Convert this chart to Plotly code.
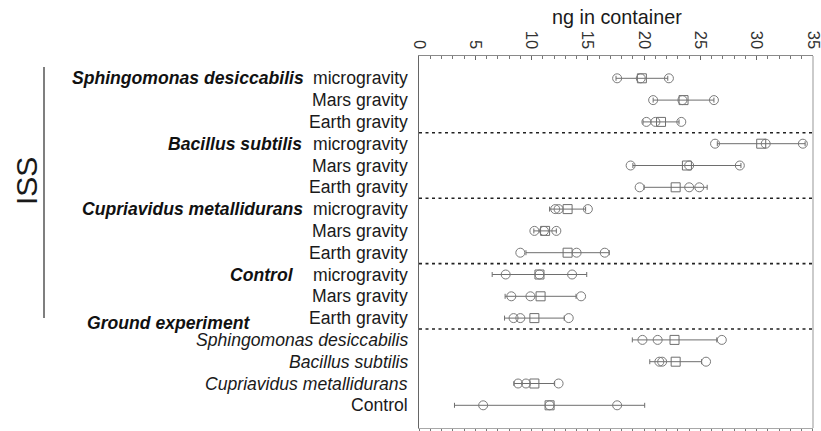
import plotly.graph_objects as go

# ---------------- data ----------------
row_labels = ["microgravity", "Mars gravity", "Earth gravity",
              "microgravity", "Mars gravity", "Earth gravity",
              "microgravity", "Mars gravity", "Earth gravity",
              "microgravity", "Mars gravity", "Earth gravity",
              "Sphingomonas desiccabilis", "Bacillus subtilis",
              "Cupriavidus metallidurans", "Control"]
row_italic = [False] * 12 + [True, True, True, False]

group_labels = ["Sphingomonas desiccabilis", "Bacillus subtilis",
                "Cupriavidus metallidurans", "Control"]
group_rows = [0, 3, 6, 9]

means = [19.8, 23.5, 21.5, 30.4, 23.8, 22.8, 13.2, 11.2, 13.2,
         10.7, 10.8, 10.25, 22.7, 22.8, 10.25, 11.6]
sd = [2.3, 2.7, 1.6, 3.9, 4.8, 2.8, 1.6, 1.0, 3.7,
      4.2, 3.15, 2.65, 3.75, 2.3, 1.8, 8.45]
replicates = [
    [17.6, 19.7, 22.2],
    [20.8, 23.4, 26.2],
    [20.2, 21.0, 23.3],
    [26.3, 30.8, 34.1],
    [18.8, 24.0, 28.5],
    [19.6, 24.0, 24.9],
    [12.1, 12.4, 15.0],
    [10.25, 11.1, 12.2],
    [9.0, 14.0, 16.5],
    [7.7, 10.7, 13.6],
    [8.2, 9.9, 14.4],
    [8.4, 9.0, 13.3],
    [19.85, 21.2, 26.9],
    [21.35, 21.6, 25.5],
    [8.8, 9.5, 12.4],
    [5.7, 11.6, 17.6],
]
x_ticks = [0, 5, 10, 15, 20, 25, 30, 35]
separators = [2.5, 5.5, 8.5, 11.5]

# ---------------- layout helpers ----------------
W, H = 821, 431
L, R, T, B = 419, 813, 56, 428


def px_x(px):
    return (px - L) / (R - L)


def px_y(py):
    return (B - py) / (B - T)


rows = list(range(len(means)))
FONT = "Arial, Liberation Sans, sans-serif"
TXT = "#1a1a1a"

fig = go.Figure()

# means with SD error bars
fig.add_trace(go.Scatter(
    x=means, y=rows, mode="markers",
    marker=dict(symbol="square-open", size=9, color="#6e6e6e",
                line=dict(width=1, color="#6e6e6e")),
    error_x=dict(type="data", array=sd, visible=True, color="#6e6e6e",
                 thickness=1, width=2.5),
    showlegend=False, hoverinfo="x+y"))

# individual replicates
rx, ry = [], []
for r, vals in zip(rows, replicates):
    for v in vals:
        rx.append(v)
        ry.append(r)
fig.add_trace(go.Scatter(
    x=rx, y=ry, mode="markers",
    marker=dict(symbol="circle-open", size=9, color="#7a7a7a",
                line=dict(width=1, color="#7a7a7a")),
    showlegend=False, hoverinfo="x+y"))

# dotted separators
for s in separators:
    fig.add_shape(type="line", xref="paper", yref="y", x0=0, x1=1, y0=s, y1=s,
                  line=dict(color="#222222", width=1.6, dash="3px,3.5px"))

# right frame line
fig.add_shape(type="line", xref="paper", yref="paper", x0=1, x1=1, y0=0, y1=1,
              line=dict(color="#a8a8a8", width=1.2))

# ISS bracket line
fig.add_shape(type="line", xref="paper", yref="paper",
              x0=px_x(44), x1=px_x(44), y0=px_y(67), y1=px_y(318),
              line=dict(color="#555555", width=1.5))

annotations = []
# row labels
for r, lab, it in zip(rows, row_labels, row_italic):
    annotations.append(dict(
        x=px_x(410), xref="paper", y=r, yref="y", xanchor="right",
        yanchor="middle", showarrow=False,
        text=f"<i>{lab}</i>" if it else lab,
        font=dict(family=FONT, size=17.6, color=TXT)))

# bold group labels
group_right = [306, 303.5, 305, 296]
for g, r, xr in zip(group_labels, group_rows, group_right):
    annotations.append(dict(
        x=px_x(xr), xref="paper", y=r, yref="y", xanchor="right",
        yanchor="middle", showarrow=False,
        text=f"<b><i>{g}</i></b>",
        font=dict(family=FONT, size=17.6, color="#111111")))

annotations.append(dict(
    x=px_x(85), xref="paper", y=11.22, yref="y", xanchor="left",
    yanchor="middle", showarrow=False, text="<b><i>Ground experiment</i></b>",
    font=dict(family=FONT, size=17.6, color="#111111")))

annotations.append(dict(
    x=px_x(26), xref="paper", y=px_y(181), yref="paper", xanchor="center",
    yanchor="middle", showarrow=False, text="ISS", textangle=-90,
    font=dict(family=FONT, size=30, color=TXT)))

annotations.append(dict(
    x=px_x(616.5), xref="paper", y=px_y(17), yref="paper", xanchor="center",
    yanchor="middle", showarrow=False, text="ng in container",
    font=dict(family=FONT, size=19.8, color=TXT)))

r_top = (T - 78.3) / 21.8
r_bot = (B - 78.3) / 21.8
x_range = [-0.001, 35.001]

fig.update_layout(
    width=W, height=H,
    margin=dict(l=L, r=W - R, t=T, b=H - B, pad=0, autoexpand=False),
    paper_bgcolor="white", plot_bgcolor="white",
    annotations=annotations,
    xaxis=dict(
        range=x_range, side="top", tickvals=x_ticks, automargin=False,
        ticktext=[str(v) for v in x_ticks], ticklabeloverflow="allow",
        tickangle=90, ticks="inside", ticklen=4, tickcolor="#666666",
        tickfont=dict(family=FONT, size=16.5, color="#333333"),
        showline=True, linecolor="#8a8a8a", linewidth=1.2,
        showgrid=False, zeroline=False,
        minor=dict(dtick=1, ticks="inside", ticklen=3, tickcolor="#777777",
                   showgrid=False)),
    xaxis2=dict(
        range=x_range, overlaying="x", side="bottom", showticklabels=False,
        automargin=False,
        ticks="outside", ticklen=4, dtick=1, tick0=0, tickcolor="#777777",
        showline=True, linecolor="#a8a8a8", linewidth=1.2,
        showgrid=False, zeroline=False),
    yaxis=dict(
        range=[r_bot, r_top], showticklabels=False, ticks="", automargin=False,
        showline=True, linecolor="#666666", linewidth=1.3,
        showgrid=False, zeroline=False),
)

# dummy trace to show the bottom axis
fig.add_trace(go.Scatter(x=[None], y=[None], xaxis="x2", yaxis="y",
                         showlegend=False, hoverinfo="skip"))

fig.write_html("out.html")
